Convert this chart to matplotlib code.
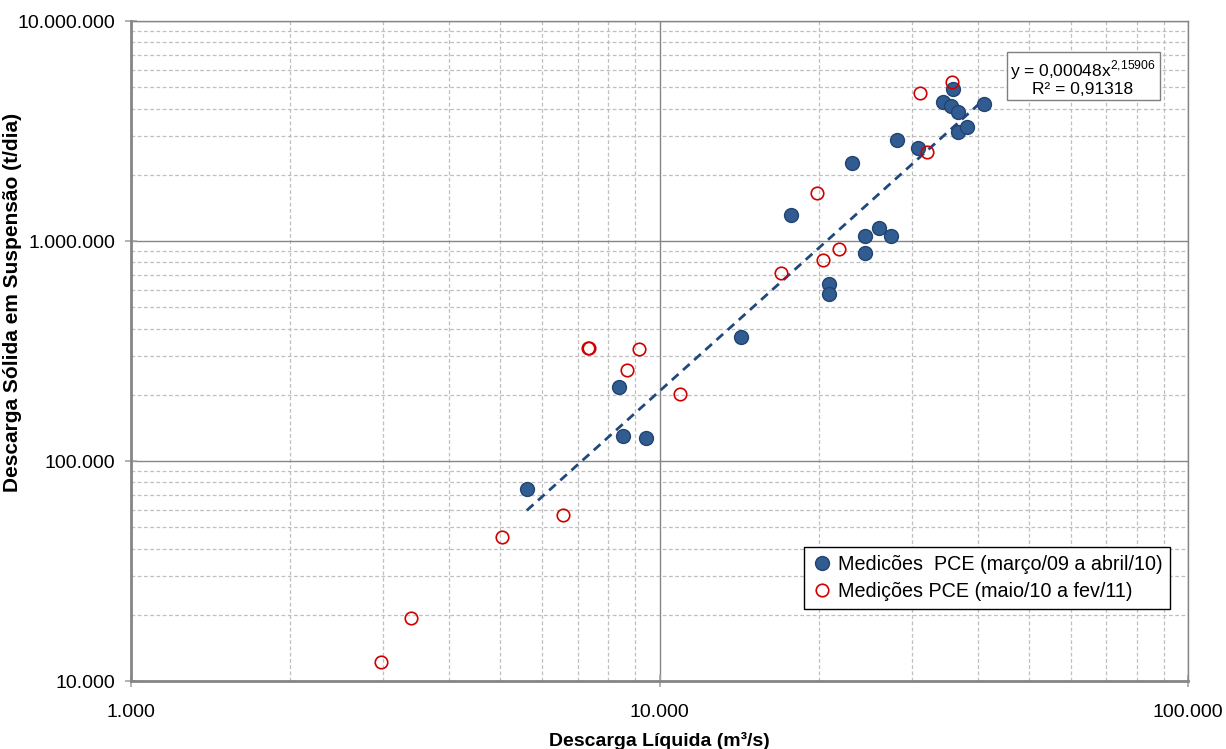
import numpy as np
import matplotlib.pyplot as plt
from matplotlib.ticker import FixedLocator, FuncFormatter, NullFormatter

plt.rcParams['font.family'] = ['Liberation Sans', 'DejaVu Sans']
plt.rcParams['mathtext.fontset'] = 'custom'
plt.rcParams['mathtext.rm'] = 'Liberation Sans'

# Medições PCE (março/09 a abril/10)
q_pce1 = [5610, 8380, 8530, 9430, 14260, 17740, 20930, 20930, 23130, 24480,
          24480, 26020, 27420, 28140, 30840, 34390, 35630, 35910, 36720, 36720,
          38190, 41110]
qs_pce1 = [74600, 216900, 130000, 127300, 366000, 1313000, 638000, 574000,
           2262000, 1054000, 882000, 1145000, 1054000, 2878000, 2648000,
           4285000, 4109000, 4909000, 3859000, 3130000, 3302000, 4195000]

# Medições PCE (maio/10 a fev/11)
q_pce2 = [2972, 3388, 5035, 6565, 7324, 7340, 8690, 9130, 10940, 16950,
          19900, 20420, 21890, 31110, 32110, 35760]
qs_pce2 = [12200, 19330, 45180, 56880, 326300, 328000, 259000, 322000,
           201000, 716000, 1659000, 819000, 920000, 4690000, 2539000, 5264000]

# curva de potência ajustada
coef_a = 0.00048
coef_b = 2.15906
r2 = 0.91318

fig = plt.figure(figsize=(12.26, 7.49), dpi=100)
ax = fig.add_axes([131 / 1226, 1 - 681 / 749, 1057 / 1226, 660 / 749])
ax.set_xscale('log')
ax.set_yscale('log')
ax.set_xlim(1000, 100000)
ax.set_ylim(10000, 10000000)

grid_major = '#868686'
grid_minor = '#BFBFBF'

ax.grid(True, which='major', color=grid_major, linewidth=1.0, linestyle='-')
ax.grid(True, which='minor', color=grid_minor, linewidth=0.9, linestyle=(0, (3, 2)))
ax.set_axisbelow(True)

def milhar(v, pos):
    return f'{int(round(v)):,}'.replace(',', '.')

ax.xaxis.set_major_locator(FixedLocator([1000, 10000, 100000]))
ax.yaxis.set_major_locator(FixedLocator([10000, 100000, 1000000, 10000000]))
ax.xaxis.set_major_formatter(FuncFormatter(milhar))
ax.yaxis.set_major_formatter(FuncFormatter(milhar))
ax.xaxis.set_minor_formatter(NullFormatter())
ax.yaxis.set_minor_formatter(NullFormatter())
ax.tick_params(which='minor', length=0)
ax.tick_params(axis='y', which='major', direction='inout', length=9, width=1.2,
               color='#A6A6A6', labelsize=14, pad=7)
ax.tick_params(axis='x', which='major', direction='inout', length=9, width=1.2,
               color='#A6A6A6', labelsize=14, pad=12)
for s in ax.spines.values():
    s.set_color(grid_major)
    s.set_linewidth(1.0)
ax.spines['left'].set_linewidth(2.0)
ax.spines['bottom'].set_linewidth(2.0)

# linha de tendência
xt = np.logspace(np.log10(min(q_pce1)), np.log10(max(q_pce1)), 100)
ax.plot(xt, coef_a * xt ** coef_b, color='#1F497D', linewidth=2.0,
        linestyle=(0, (3.2, 2.2)), zorder=3)

ax.plot(q_pce1, qs_pce1, linestyle='none', marker='o', markersize=10,
        markerfacecolor='#305C92', markeredgecolor='#22446F', markeredgewidth=1.0,
        zorder=4, label='Medicões  PCE (março/09 a abril/10)')
ax.plot(q_pce2, qs_pce2, linestyle='none', marker='o', markersize=9,
        markerfacecolor='none', markeredgecolor='#D00000', markeredgewidth=1.2,
        zorder=5, label='Medições PCE (maio/10 a fev/11)')

ax.set_xlabel('Descarga Líquida (m³/s)', fontsize=14, fontweight='bold', labelpad=8)
ax.set_ylabel('Descarga Sólida em Suspensão (t/dia)', fontsize=15, fontweight='bold')
ax.yaxis.set_label_coords(-0.103, 0.573)

leg = ax.legend(loc='lower right', bbox_to_anchor=(0.983, 0.109), fontsize=14.2,
                frameon=True, fancybox=False, edgecolor='black', framealpha=1,
                handletextpad=0.3, handlelength=1.0, borderpad=0.4,
                labelspacing=0.4, borderaxespad=0)
leg.get_frame().set_linewidth(1.0)

eq = f'y = {coef_a:.5f}x'.replace('.', ',') + \
     r'$^{\mathregular{' + f'{coef_b:.5f}'.replace('.', '{,}') + '}}$'
ax.text(0.9007, 0.943, eq + '\n' + f'R² = {r2:.5f}'.replace('.', ','),
        transform=ax.transAxes, ha='center', va='top', fontsize=12.5,
        linespacing=0.95, multialignment='center',
        bbox=dict(boxstyle='square,pad=0.22', facecolor='white',
                  edgecolor='#7F7F7F', linewidth=1.0), zorder=6)

fig.savefig('out.png', dpi=100)
